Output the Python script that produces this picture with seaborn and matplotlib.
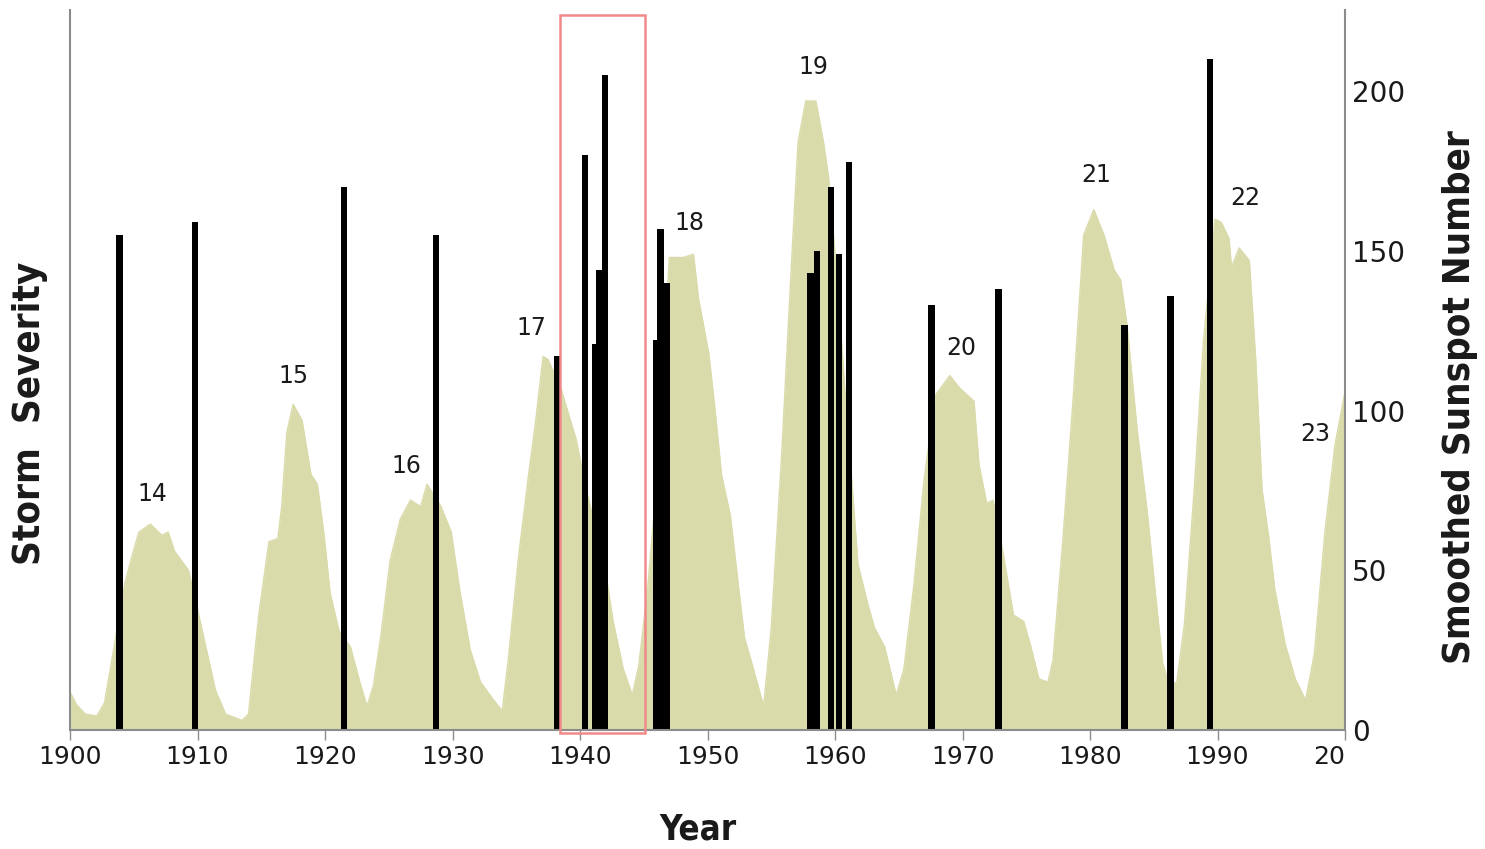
import matplotlib
matplotlib.use("Agg")
import matplotlib.pyplot as plt
from matplotlib.patches import Rectangle
import seaborn as sns
import pandas as pd

# ---- data -------------------------------------------------------------
sun_years = [1900.0, 1900.5, 1901.2, 1902.1, 1902.7, 1903.5, 1904.3, 1904.9, 1905.4, 1906.3,
             1907.2, 1907.7, 1908.2, 1909.3, 1910.1, 1910.6, 1911.4, 1912.2, 1913.5, 1914.0,
             1914.8, 1915.6, 1916.3, 1916.6, 1917.0, 1917.5, 1918.2, 1918.9, 1919.4, 1919.9,
             1920.4, 1921.1, 1922.0, 1922.8, 1923.3, 1923.8, 1924.4, 1925.1, 1925.9, 1926.7,
             1927.5, 1928.0, 1929.1, 1929.9, 1930.6, 1931.4, 1932.2, 1933.2, 1933.9, 1934.4,
             1935.2, 1936.0, 1936.5, 1937.1, 1937.5, 1938.5, 1939.1, 1939.7, 1940.5, 1941.0,
             1941.8, 1942.6, 1943.4, 1944.1, 1944.6, 1945.3, 1946.2, 1947.0, 1948.1, 1948.9,
             1949.3, 1950.1, 1950.6, 1951.1, 1951.8, 1952.4, 1952.9, 1953.4, 1954.4, 1955.0,
             1955.8, 1956.3, 1956.6, 1957.1, 1957.7, 1958.5, 1959.1, 1959.5, 1960.2, 1960.8,
             1961.3, 1961.8, 1962.6, 1963.1, 1963.9, 1964.8, 1965.4, 1966.2, 1967.0, 1967.9,
             1969.0, 1969.8, 1970.9, 1971.3, 1971.9, 1972.4, 1973.2, 1974.0, 1974.8, 1975.3,
             1976.0, 1976.7, 1977.1, 1977.9, 1978.7, 1979.5, 1980.3, 1981.1, 1981.9, 1982.4,
             1982.9, 1983.7, 1984.5, 1985.1, 1985.7, 1986.2, 1986.8, 1987.4, 1988.2, 1988.9,
             1989.8, 1990.3, 1990.9, 1991.1, 1991.7, 1992.5, 1993.0, 1993.5, 1994.0, 1994.5,
             1995.3, 1996.1, 1996.9, 1997.6, 1998.4, 1999.2, 2000.0]
sunspots = [12, 8, 5, 4.4, 8.5, 27, 46, 55, 62, 64.5,
            61, 62, 56, 50, 36, 27, 12.6, 5, 3, 5,
            36, 59, 60, 70, 93, 102, 97, 80, 77, 62,
            43, 31, 26, 14, 7.5, 14, 30, 53, 66, 72,
            70, 77, 70, 62, 43, 25, 15, 9.5, 6, 23,
            55, 81, 96, 117, 116, 107, 99, 91, 75, 67,
            55, 34, 19, 11, 20, 44, 86, 148, 148, 149,
            135, 118, 100, 80, 67, 46, 29, 22, 7.5, 32,
            85, 124, 147, 184, 197, 197, 184, 173, 140, 105,
            79, 52, 39, 32, 26, 11, 19, 46, 79, 105,
            111, 107, 103, 83, 71, 72, 55, 36, 34, 27,
            16, 15, 22, 61, 105, 155, 163, 155, 144, 141,
            127, 94, 68, 44, 21, 14, 15, 33, 77, 122,
            160, 159, 154, 145, 151, 147, 116, 75, 61, 44,
            27, 16, 9.4, 24, 61, 89, 106]

storm_years = [1903.9, 1909.8, 1921.5, 1928.7, 1938.2, 1940.4, 1941.2, 1941.55, 1941.95,
               1946.0, 1946.3, 1946.8, 1958.1, 1958.6, 1959.7, 1960.3, 1961.1,
               1967.55, 1972.8, 1982.7, 1986.3, 1989.4]
storm_severity = [155, 159, 170, 155, 117, 180, 121, 144, 205,
                  122, 157, 140, 143, 150, 170, 149, 178,
                  133, 138, 127, 136, 210]

cycle_labels = ["14", "15", "16", "17", "18", "19", "20", "21", "22", "23"]
cycle_years = [1906.5, 1917.5, 1926.4, 1936.2, 1948.6, 1958.3, 1969.9, 1980.5, 1992.2, 1997.7]
cycle_heights = [70, 107, 79, 122, 155, 204, 116, 170, 163, 89]

x_ticks = [1900, 1910, 1920, 1930, 1940, 1950, 1960, 1970, 1980, 1990, 2000]
x_tick_labels = ["1900", "1910", "1920", "1930", "1940", "1950", "1960", "1970", "1980", "1990", "20"]
y_ticks = [0, 50, 100, 150, 200]
highlight_years = [1938.4, 1945.1]

# ---- style ------------------------------------------------------------
sns.set_style("white")
plt.rcParams["font.family"] = ["DejaVu Sans"]

fill_color = "#DADBAA"
spine_color = "#8c8c8c"
text_color = "#1a1a1a"

fig = plt.figure(figsize=(14.85, 8.49), dpi=100)
ax = fig.add_axes([70 / 1485, 1 - 730 / 849, (1345 - 70) / 1485, (730 - 10) / 849])

df = pd.DataFrame({"Year": sun_years, "Sunspots": sunspots})
ax.fill_between(df["Year"], df["Sunspots"], 0, color=fill_color, lw=0, zorder=1)
sns.lineplot(data=df, x="Year", y="Sunspots", color=fill_color, lw=1.0, ax=ax, zorder=1)

ax.bar(storm_years, storm_severity, width=0.52, color="black", zorder=2, linewidth=0)

ax.add_patch(Rectangle((highlight_years[0], -1), highlight_years[1] - highlight_years[0], 225,
                       fill=False, edgecolor="#f08a8a", lw=1.8, zorder=3, clip_on=False))

for lab, cx, cy in zip(cycle_labels, cycle_years, cycle_heights):
    ax.text(cx, cy, lab, ha="center", va="bottom", fontsize=17, color=text_color, zorder=4)

ax.set_xlim(1900, 2000)
ax.set_ylim(0, 225.5)

ax.set_xticks(x_ticks)
ax.set_xticklabels(x_tick_labels, fontsize=18, color=text_color)
ax.get_xticklabels()[-1].set_horizontalalignment("right")
ax.tick_params(axis="x", direction="out", length=7, width=1, color=spine_color, pad=4, bottom=True)

ax.yaxis.tick_right()
ax.set_yticks(y_ticks)
ax.set_yticklabels([str(v) for v in y_ticks], fontsize=20, color=text_color)
ax.tick_params(axis="y", right=True, length=0, pad=5)
ax.tick_params(axis="y", left=False)

ax.set_xlabel("")
ax.set_ylabel("")

for side in ["left", "right", "bottom"]:
    ax.spines[side].set_visible(True)
    ax.spines[side].set_color(spine_color)
    ax.spines[side].set_linewidth(1.5)
ax.spines["top"].set_visible(False)
ax.grid(False)

label_kw = dict(fontweight="bold", fontstretch="condensed", color=text_color)
fig.text(698 / 1485, 1 - 830 / 849, "Year", ha="center", va="center", fontsize=25, **label_kw)
fig.text(30 / 1485, 1 - 413 / 849, "Storm  Severity", ha="center", va="center", rotation=90,
         fontsize=27.5, **label_kw)
fig.text(1460 / 1485, 1 - 397 / 849, "Smoothed Sunspot Number", ha="center", va="center",
         rotation=90, fontsize=27.5, **label_kw)

fig.savefig("out.png", dpi=100)
